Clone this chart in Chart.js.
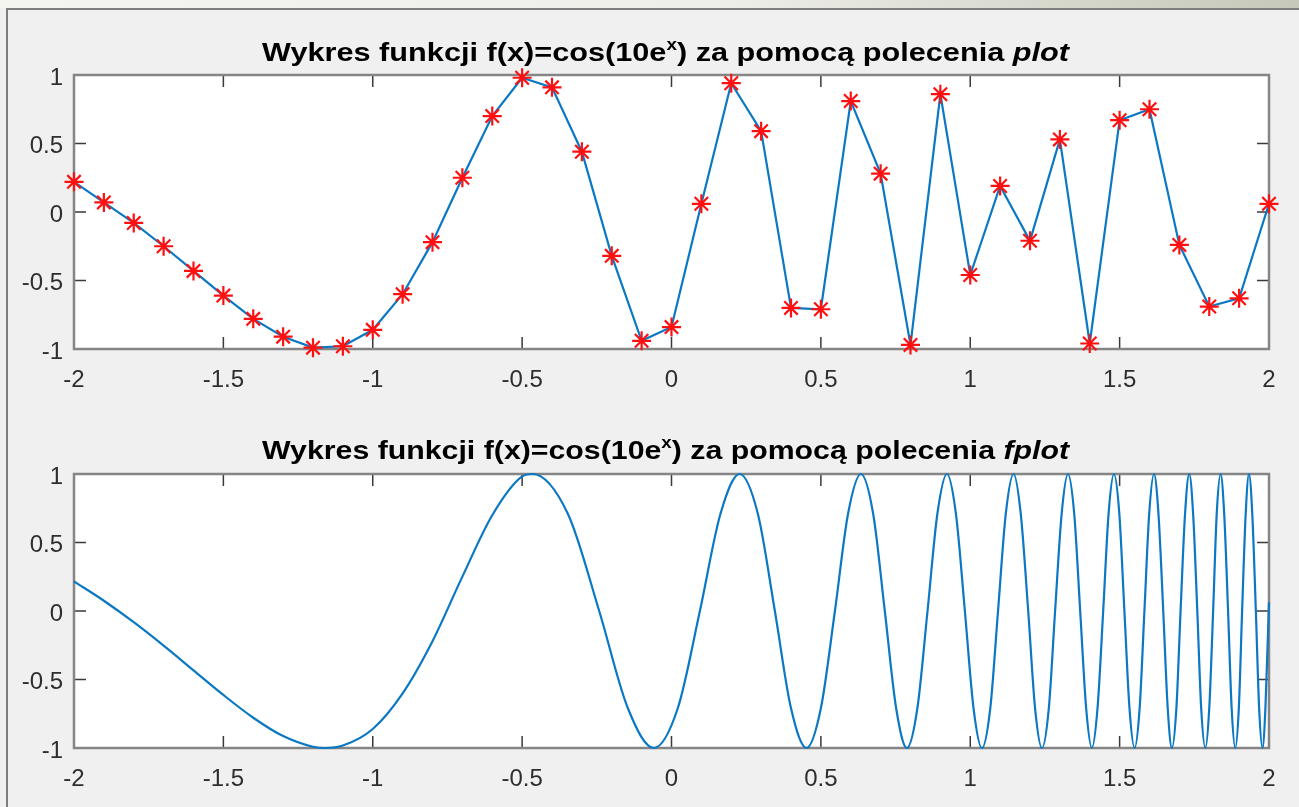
<!DOCTYPE html>
<html>
<head>
<meta charset="utf-8">
<script src="https://cdn.jsdelivr.net/npm/chart.js@4/dist/chart.umd.min.js"></script>
<style>
  html, body { margin: 0; padding: 0; }
  body {
    width: 1299px; height: 807px; overflow: hidden; position: relative;
    background: #f0f0f0; font-family: "Liberation Sans", Arial, sans-serif;
  }
  #titlebar {
    position: absolute; left: 0; top: 0; width: 1299px; height: 8px;
    background: linear-gradient(90deg, #f4f4f0 0%, #efefea 55%, #d8d9ce 80%, #c6c8ba 100%);
  }
  #edgeTop { position: absolute; left: 6px; top: 8px; width: 1293px; height: 2px; background: #7d7d7d; }
  #edgeLeft { position: absolute; left: 6px; top: 8px; width: 2px; height: 799px; background: #7d7d7d; }
  .panel { position: absolute; left: 0; width: 1299px; }
  #panel1 { top: 0; height: 400px; }
  #panel2 { top: 400px; height: 407px; }
</style>
</head>
<body>
<div id="titlebar"></div>
<div class="panel" id="panel1"><canvas id="plotChart"></canvas></div>
<div class="panel" id="panel2"><canvas id="fplotChart"></canvas></div>
<div id="edgeTop"></div>
<div id="edgeLeft"></div>
<script>
// Axis ticks shared by both subplots
const xTickValues = [-2, -1.5, -1, -0.5, 0, 0.5, 1, 1.5, 2];
const xTickLabels = ['-2', '-1.5', '-1', '-0.5', '0', '0.5', '1', '1.5', '2'];
const yTickValues = [-1, -0.5, 0, 0.5, 1];
const yTickLabels = ['-1', '-0.5', '0', '0.5', '1'];

// Titles: main text, superscript, rest, italic command name
const titleHead = 'Wykres funkcji f(x)=cos(10e';
const titleSup = 'x';
const titleTail = ') za pomocą polecenia ';
const titleCmdTop = 'plot';
const titleCmdBottom = 'fplot';

// Sampled points (step 0.1) drawn with "plot"
const plotX = [-2, -1.9, -1.8, -1.7, -1.6, -1.5, -1.4, -1.3, -1.2, -1.1, -1.0,
  -0.9, -0.8, -0.7, -0.6, -0.5, -0.4, -0.3, -0.2, -0.1, 0,
  0.1, 0.2, 0.3, 0.4, 0.5, 0.6, 0.7, 0.8, 0.9, 1.0,
  1.1, 1.2, 1.3, 1.4, 1.5, 1.6, 1.7, 1.8, 1.9, 2.0];
const plotY = [0.22, 0.07, -0.08, -0.25, -0.43, -0.61, -0.78, -0.91, -0.99, -0.98, -0.86,
  -0.60, -0.22, 0.25, 0.70, 0.98, 0.91, 0.44, -0.32, -0.94, -0.84,
  0.06, 0.94, 0.59, -0.70, -0.71, 0.81, 0.28, -0.97, 0.86, -0.46,
  0.19, -0.21, 0.53, -0.96, 0.67, 0.75, -0.24, -0.69, -0.63, 0.06];

// Dense curve drawn with "fplot": peaks, troughs, zero crossings and mid-slope points
const fplotX = [-2, -1.9, -1.8, -1.7, -1.6, -1.5, -1.4, -1.3, -1.2, -1.158, -1.1, -1.0,
  -0.9, -0.8, -0.7, -0.6, -0.5,
  -0.465, -0.347, -0.242, -0.146, -0.059, 0.021, 0.095, 0.164,
  0.228, 0.289, 0.346, 0.400, 0.452, 0.500, 0.547, 0.591,
  0.634, 0.675, 0.714, 0.752, 0.788, 0.823, 0.857, 0.890,
  0.922, 0.952, 0.982, 1.011, 1.039, 1.067, 1.093, 1.119,
  1.145, 1.169, 1.194, 1.217, 1.240, 1.263, 1.284, 1.306,
  1.327, 1.348, 1.368, 1.388, 1.407, 1.426, 1.445, 1.463,
  1.481, 1.499, 1.516, 1.533, 1.550, 1.567, 1.583, 1.599,
  1.615, 1.630, 1.646, 1.661, 1.675, 1.690, 1.704, 1.719,
  1.733, 1.746, 1.760, 1.773, 1.787, 1.800, 1.813, 1.825,
  1.838, 1.850, 1.863, 1.875, 1.887, 1.899, 1.910, 1.922,
  1.933, 1.944, 1.956, 1.967, 1.978, 1.988, 1.999, 2.0];
const fplotY = [0.216, 0.075, -0.082, -0.253, -0.433, -0.613, -0.779, -0.913, -0.991, -1, -0.982, -0.861,
  -0.601, -0.220, 0.251, 0.699, 0.982,
  1, 0.71, 0, -0.71, -1, -0.71, 0, 0.71,
  1, 0.71, 0, -0.71, -1, -0.71, 0, 0.71,
  1, 0.71, 0, -0.71, -1, -0.71, 0, 0.71,
  1, 0.71, 0, -0.71, -1, -0.71, 0, 0.71,
  1, 0.71, 0, -0.71, -1, -0.71, 0, 0.71,
  1, 0.71, 0, -0.71, -1, -0.71, 0, 0.71,
  1, 0.71, 0, -0.71, -1, -0.71, 0, 0.71,
  1, 0.71, 0, -0.71, -1, -0.71, 0, 0.71,
  1, 0.71, 0, -0.71, -1, -0.71, 0, 0.71,
  1, 0.71, 0, -0.71, -1, -0.71, 0, 0.71,
  1, 0.71, 0, -0.71, -1, -0.71, 0, 0.064];

const LINE_BLUE = '#0a78c2';
const TICK_TEXT = '#2e2e2e';
const FONT_FAMILY = '"Liberation Sans", Arial, Helvetica, sans-serif';

// White axes background, grey box and inward ticks on all four sides
const axesBoxPlugin = {
  id: 'axesBox',
  beforeDraw(chart) {
    const { ctx, chartArea: a } = chart;
    ctx.save();
    ctx.fillStyle = '#ffffff';
    ctx.fillRect(a.left, a.top, a.right - a.left, a.bottom - a.top);
    ctx.restore();
  },
  beforeDatasetsDraw(chart) {
    const { ctx, chartArea: a, scales } = chart;
    const len = 12;
    ctx.save();
    ctx.strokeStyle = '#3a3a3a';
    ctx.lineWidth = 1.5;
    ctx.beginPath();
    xTickValues.forEach(v => {
      const px = scales.x.getPixelForValue(v);
      ctx.moveTo(px, a.bottom); ctx.lineTo(px, a.bottom - len);
      ctx.moveTo(px, a.top); ctx.lineTo(px, a.top + len);
    });
    yTickValues.forEach(v => {
      const py = scales.y.getPixelForValue(v);
      ctx.moveTo(a.left, py); ctx.lineTo(a.left + len, py);
      ctx.moveTo(a.right, py); ctx.lineTo(a.right - len, py);
    });
    ctx.stroke();
    ctx.strokeStyle = '#858585';
    ctx.lineWidth = 2.5;
    ctx.strokeRect(a.left, a.top, a.right - a.left, a.bottom - a.top);
    ctx.restore();
  }
};

// Title with superscript exponent and italic command name
const mixedTitlePlugin = {
  id: 'mixedTitle',
  afterDraw(chart, args, opts) {
    const { ctx, chartArea: a } = chart;
    const size = opts.size;
    const parts = [
      { text: titleHead, font: `bold ${size}px ${FONT_FAMILY}`, dy: 0 },
      { text: titleSup, font: `bold ${Math.round(size * 0.62)}px ${FONT_FAMILY}`, dy: -Math.round(size * 0.42) },
      { text: titleTail, font: `bold ${size}px ${FONT_FAMILY}`, dy: 0 },
      { text: opts.cmd, font: `italic bold ${size}px ${FONT_FAMILY}`, dy: 0 }
    ];
    ctx.save();
    ctx.fillStyle = '#000000';
    ctx.textBaseline = 'alphabetic';
    ctx.textAlign = 'left';
    let total = 0;
    parts.forEach(p => { ctx.font = p.font; p.w = ctx.measureText(p.text).width; total += p.w; });
    const cx = (a.left + a.right) / 2 + opts.shift;
    const sx = opts.width ? opts.width / total : 1;
    ctx.translate(cx, opts.baseline);
    ctx.scale(sx, 1);
    let x = -total / 2;
    parts.forEach(p => { ctx.font = p.font; ctx.fillText(p.text, x, p.dy); x += p.w; });
    ctx.restore();
  }
};

function makeScales(xAxisHeight) {
  return {
    x: {
      type: 'linear', min: -2, max: 2,
      afterBuildTicks: s => { s.ticks = xTickValues.map(v => ({ value: v })); },
      afterFit: s => { s.height = xAxisHeight; },
      grid: { display: false, drawTicks: false }, border: { display: false },
      ticks: {
        callback: (v, i) => xTickLabels[i],
        color: TICK_TEXT, font: { family: FONT_FAMILY, size: 24 },
        padding: 17, maxRotation: 0, autoSkip: false
      }
    },
    y: {
      type: 'linear', min: -1, max: 1,
      afterBuildTicks: s => { s.ticks = yTickValues.map(v => ({ value: v })); },
      afterFit: s => { s.width = 74; },
      grid: { display: false, drawTicks: false }, border: { display: false },
      ticks: {
        callback: (v, i) => yTickLabels[i],
        color: TICK_TEXT, font: { family: FONT_FAMILY, size: 24 },
        padding: 11, labelOffset: 3, autoSkip: false
      }
    }
  };
}

Chart.defaults.animation = false;

new Chart(document.getElementById('plotChart'), {
  type: 'line',
  data: {
    datasets: [{
      data: plotX.map((x, i) => ({ x, y: plotY[i] })),
      borderColor: LINE_BLUE, borderWidth: 2.2, tension: 0,
      pointStyle: 'star', pointRadius: 9.5, pointBorderWidth: 2.2,
      pointBorderColor: '#ff1010', pointBackgroundColor: '#ff1010',
      clip: false
    }]
  },
  options: {
    responsive: true, maintainAspectRatio: false, events: [],
    layout: { padding: { top: 75, left: 0, right: 30, bottom: 0 }, autoPadding: false },
    scales: makeScales(51),
    plugins: {
      legend: { display: false }, tooltip: { enabled: false },
      mixedTitle: { cmd: titleCmdTop, baseline: 61, size: 26, shift: -6, width: 807 }
    }
  },
  plugins: [axesBoxPlugin, mixedTitlePlugin]
});

new Chart(document.getElementById('fplotChart'), {
  type: 'line',
  data: {
    datasets: [{
      data: fplotX.map((x, i) => ({ x, y: fplotY[i] })),
      borderColor: LINE_BLUE, borderWidth: 2.2,
      cubicInterpolationMode: 'monotone',
      pointRadius: 0, clip: 3
    }]
  },
  options: {
    responsive: true, maintainAspectRatio: false, events: [],
    layout: { padding: { top: 74, left: 0, right: 30, bottom: 0 }, autoPadding: false },
    scales: makeScales(59),
    plugins: {
      legend: { display: false }, tooltip: { enabled: false },
      mixedTitle: { cmd: titleCmdBottom, baseline: 59, size: 26, shift: -6, width: 807 }
    }
  },
  plugins: [axesBoxPlugin, mixedTitlePlugin]
});
</script>
</body>
</html>
